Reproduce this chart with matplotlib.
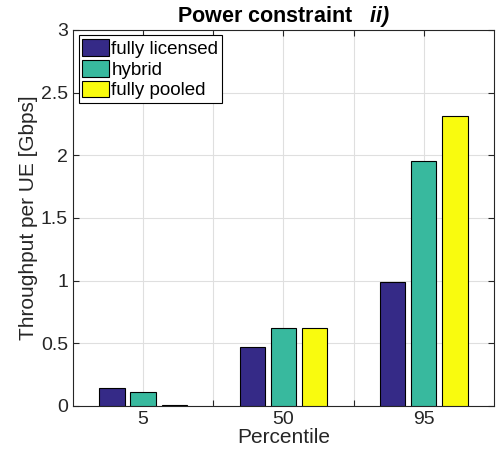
import matplotlib.pyplot as plt
import numpy as np

plt.rcParams['font.family'] = ['Liberation Sans', 'DejaVu Sans']
plt.rcParams['mathtext.fontset'] = 'custom'
plt.rcParams['mathtext.bfit'] = 'Liberation Sans:italic:bold'

# Throughput per UE [Gbps] at each percentile
percentiles = ['5', '50', '95']
fully_licensed = [0.14, 0.47, 0.99]
hybrid = [0.11, 0.62, 1.95]
fully_pooled = [0.008, 0.62, 2.31]

series = [('fully licensed', fully_licensed, '#352A87'),
          ('hybrid', hybrid, '#38B99E'),
          ('fully pooled', fully_pooled, '#F9FB0E')]

fig = plt.figure(figsize=(5.03, 4.59), dpi=100)
ax = fig.add_axes([0.145, 0.1155, 0.837, 0.8195])

x = np.arange(1, len(percentiles) + 1)
width = 0.18
offset = 0.222
for i, (name, vals, color) in enumerate(series):
    ax.bar(x + (i - 1) * offset, vals, width, color=color, edgecolor='black',
           linewidth=0.8, label=name, zorder=3)

ax.set_xlim(0.5, 3.5)
ax.set_ylim(0, 3)
ax.set_xticks([1, 1.5, 2, 2.5, 3])
ax.set_xticklabels(['5', '', '50', '', '95'])
ax.set_yticks([0, 0.5, 1, 1.5, 2, 2.5, 3])
ax.set_yticklabels(['0', '0.5', '1', '1.5', '2', '2.5', '3'])
ax.grid(True, color='#dfdfdf', linewidth=0.8, zorder=0)
ax.tick_params(direction='in', top=True, right=True, length=4,
               labelsize=14, colors='#262626', width=0.8)
for s in ax.spines.values():
    s.set_color('#262626')
    s.set_linewidth(0.8)

ax.set_xlabel('Percentile', fontsize=15, color='#262626', labelpad=0)
ax.set_ylabel('Throughput per UE [Gbps]', fontsize=15, color='#262626', labelpad=2)
ax.set_title(r'Power constraint   $\mathbfit{ii)}$', fontsize=15.5,
             fontweight='bold', pad=6)

leg = ax.legend(loc='upper left', fontsize=13.5, frameon=True, fancybox=False,
                edgecolor='black', framealpha=1, handlelength=1.4,
                handleheight=1.0, handletextpad=0.15, labelspacing=0.1,
                borderpad=0.2, borderaxespad=0.3)
leg.get_frame().set_linewidth(0.8)

fig.savefig('out.png', dpi=100)
